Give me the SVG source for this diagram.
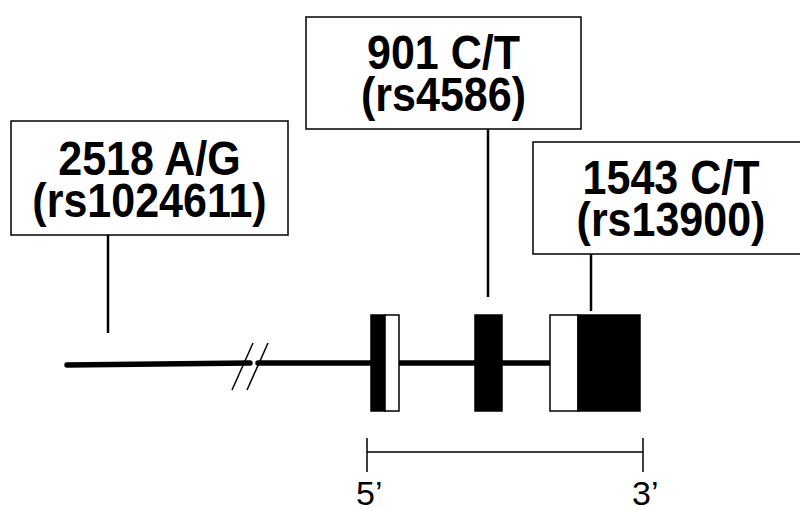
<svg xmlns="http://www.w3.org/2000/svg" width="800" height="510" viewBox="0 0 800 510">
<style>
.box{fill:#fff;stroke:#000;stroke-width:1.5}
.lbl{font-family:"Liberation Sans",Arial,sans-serif;font-weight:bold;font-size:43px;text-anchor:middle;fill:#000}
.end{font-family:"Liberation Sans",Arial,sans-serif;font-size:34px;fill:#000}
.conn{stroke:#000;stroke-width:2.5;fill:none}
.gene{stroke:#000;stroke-width:5.5;stroke-linecap:round;fill:none}
.thin{stroke:#000;stroke-width:1.5;fill:none}
.ex-b{fill:#000;stroke:#000;stroke-width:1.5}
.ex-w{fill:#fff;stroke:#000;stroke-width:1.5}
</style>
<rect width="800" height="510" fill="#fff"/>
<g id="connectors">
<line class="conn" x1="108" y1="235" x2="108" y2="333"/>
<line class="conn" x1="488" y1="129" x2="488" y2="297"/>
<line class="conn" x1="591" y1="254" x2="591" y2="311"/>
</g>
<g id="gene-line">
<line class="gene" x1="67" y1="365" x2="250" y2="363"/>
<line class="gene" x1="258" y1="363" x2="372" y2="363"/>
<line class="gene" x1="400" y1="363" x2="476" y2="363"/>
<line class="gene" x1="501" y1="363" x2="553" y2="363"/>
<line class="thin" x1="232" y1="390" x2="253" y2="343"/>
<line class="thin" x1="247" y1="390" x2="268" y2="343"/>
</g>
<g id="exon1">
<rect class="ex-b" x="371" y="315" width="14" height="96"/>
<rect class="ex-w" x="385" y="315" width="14" height="96"/>
</g>
<g id="exon2">
<rect class="ex-b" x="475" y="315" width="27" height="96"/>
</g>
<g id="exon3">
<rect class="ex-w" x="550" y="315" width="28" height="96"/>
<rect class="ex-b" x="578" y="315" width="62" height="96"/>
</g>
<g id="snp1">
<rect class="box" x="11" y="121" width="277" height="114"/>
<text class="lbl" transform="translate(149.5,175) scale(1,1.13)">2518 A/G</text>
<text class="lbl" transform="translate(149.5,217) scale(1,1.13)">(rs1024611)</text>
</g>
<g id="snp2">
<rect class="box" x="306" y="17" width="275" height="112"/>
<text class="lbl" transform="translate(443.5,69) scale(1,1.13)">901 C/T</text>
<text class="lbl" transform="translate(443.5,111) scale(1,1.13)">(rs4586)</text>
</g>
<g id="snp3">
<rect class="box" x="533" y="142" width="277" height="112"/>
<text class="lbl" transform="translate(671,194) scale(1,1.13)">1543 C/T</text>
<text class="lbl" transform="translate(671,236) scale(1,1.13)">(rs13900)</text>
</g>
<g id="scale">
<line class="thin" x1="367" y1="438" x2="367" y2="472"/>
<line class="thin" x1="643" y1="438" x2="643" y2="472"/>
<line class="thin" x1="367" y1="452" x2="643" y2="452"/>
<text class="end" x="356" y="505">5’</text>
<text class="end" x="632" y="505">3’</text>
</g>
</svg>
